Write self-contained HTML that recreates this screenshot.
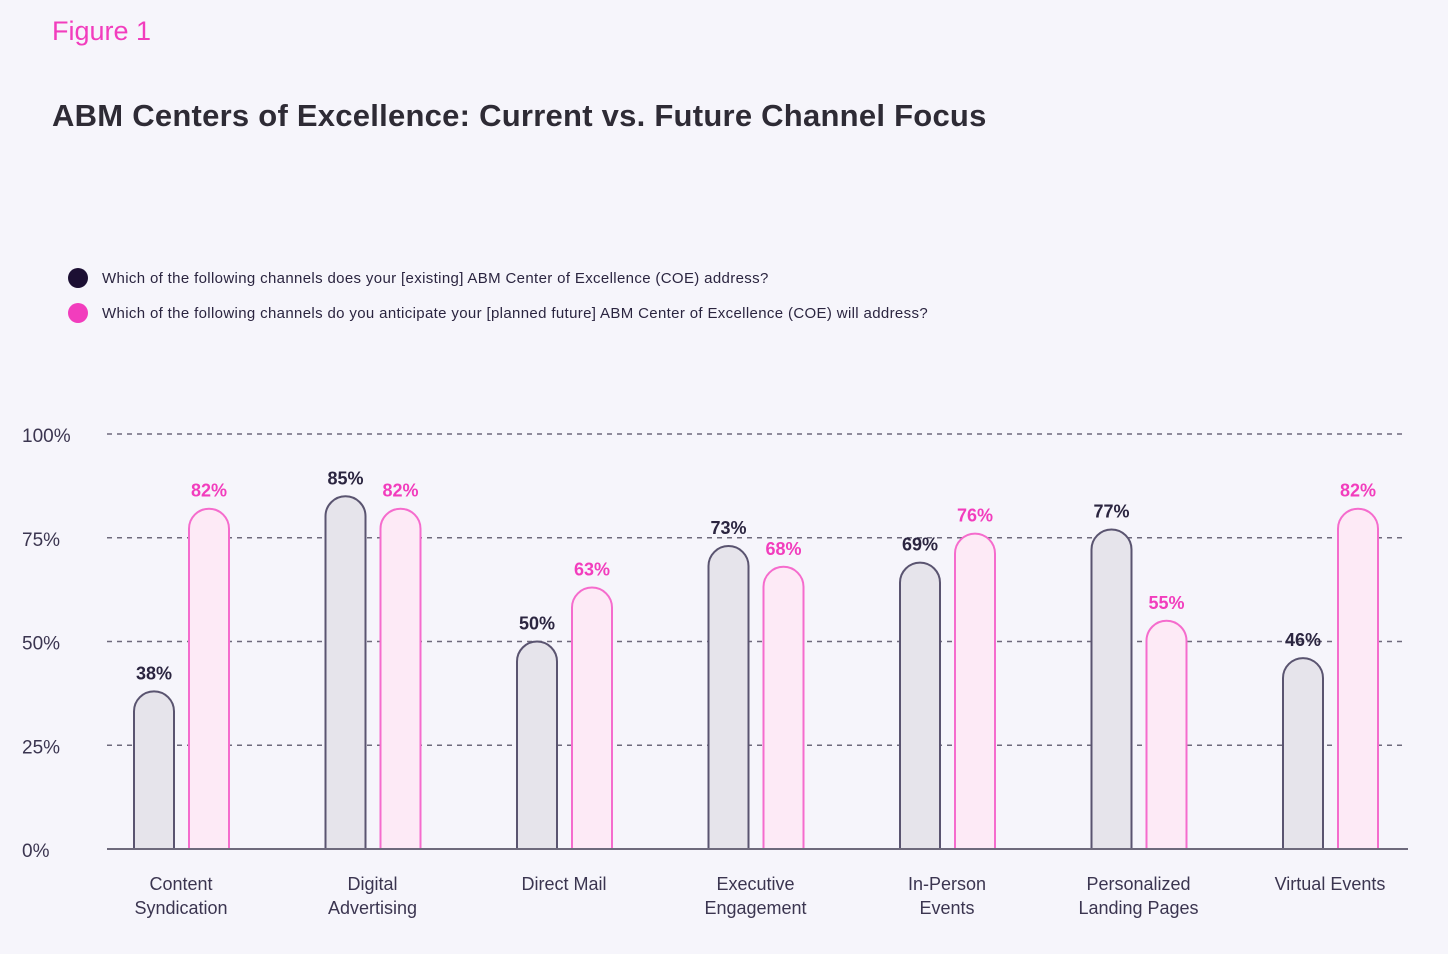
<!DOCTYPE html>
<html><head><meta charset="utf-8">
<style>
html,body{margin:0;padding:0;background:#f6f5fb;}
body{width:1448px;height:954px;position:relative;overflow:hidden;font-family:"Liberation Sans","DejaVu Sans",sans-serif;}
.fig{position:absolute;left:52px;top:16px;font-size:27px;color:#f23dbd;}
.title{position:absolute;left:52px;top:98px;font-size:31px;font-weight:bold;color:#2e2b35;letter-spacing:0.25px;}
.leg{position:absolute;left:68px;font-size:15px;color:#2b2540;display:flex;align-items:center;letter-spacing:0.35px;}
.dot{width:20px;height:20px;border-radius:50%;margin-right:14px;}
</style></head>
<body>
<div class="fig">Figure 1</div>
<div class="title">ABM Centers of Excellence: Current vs. Future Channel Focus</div>
<div class="leg" style="top:268px"><div class="dot" style="background:#1c0f33"></div>Which of the following channels does your [existing] ABM Center of Excellence (COE) address?</div>
<div class="leg" style="top:303px"><div class="dot" style="background:#f23dbd"></div>Which of the following channels do you anticipate your [planned future] ABM Center of Excellence (COE) will address?</div>
<svg id="chart" width="1448" height="954" style="position:absolute;left:0;top:0"></svg>
<script>
const categories=[["Content","Syndication"],["Digital","Advertising"],["Direct Mail"],["Executive","Engagement"],["In-Person","Events"],["Personalized","Landing Pages"],["Virtual Events"]];
const currentValues=[38,85,50,73,69,77,46];
const futureValues=[82,82,63,68,76,55,82];
const tickValues=[0,25,50,75,100];
const tickLabels=["0%","25%","50%","75%","100%"];
const svg=document.getElementById('chart');
const NS='http://www.w3.org/2000/svg';
const y0=849,yScale=415/100;
const Y=v=>y0-v*yScale;
const X=i=>181+i*191.5;
function mk(t,a){const e=document.createElementNS(NS,t);for(const k in a)e.setAttribute(k,a[k]);svg.appendChild(e);return e;}
tickValues.forEach((v,i)=>{
  if(v>0){const g=mk('line',{x1:107,x2:1405,y1:Y(v),y2:Y(v),stroke:'#6e6a7c','stroke-width':1.5,'stroke-dasharray':'5,5'});
  
  }
  const t=mk('text',{x:22,y:Y(v)+8,'font-size':19,fill:'#3b3550'});t.textContent=tickLabels[i];
  
  
});
function bar(x,v,fill,stroke,labCol,name){
  const w=40,r=20,top=Y(v);
  const d=`M${x},${y0} L${x},${top+r} A${r},${r} 0 0 1 ${x+w},${top+r} L${x+w},${y0}`;
  const p=mk('path',{d:d,fill:fill,stroke:stroke,'stroke-width':2});
  
  
  const t=mk('text',{x:x+w/2,y:top-12,'text-anchor':'middle','font-size':18,'font-weight':'bold',fill:labCol});
  t.textContent=v+'%';
  
  
}
categories.forEach((c,i)=>{
  const cx=X(i);
  bar(cx-47,currentValues[i],'#e6e4eb','#5a5470','#2b2540','bar-current-'+i);
  bar(cx+8,futureValues[i],'#fdeaf6','#f56ccd','#f23dbd','bar-future-'+i);
  c.forEach((ln,j)=>{const t=mk('text',{x:cx,y:890+j*24,'text-anchor':'middle','font-size':18,fill:'#3b3550'});t.textContent=ln;
  
  });
});
const ax=mk('line',{x1:107,x2:1408,y1:y0,y2:y0,stroke:'#6e6a7c','stroke-width':2});


</script>
</body></html>
